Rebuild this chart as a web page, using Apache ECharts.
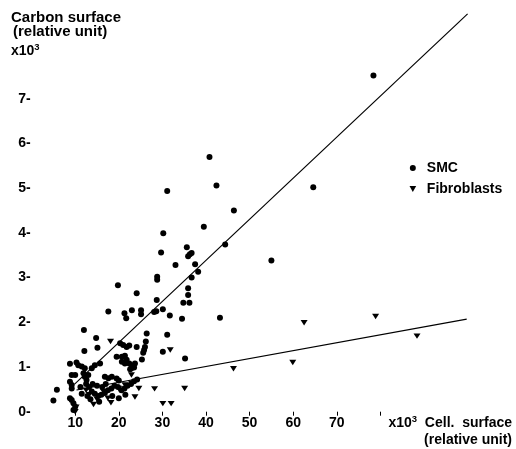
<!DOCTYPE html>
<html>
<head>
<meta charset="utf-8">
<script src="https://cdn.jsdelivr.net/npm/echarts@6/dist/echarts.min.js"></script>
<style>
html,body{margin:0;padding:0;background:#fff;}
#chart{width:516px;height:449px;}
</style>
</head>
<body>
<div id="chart"></div>
<script>
// ---- data (x in 10^3 cell surface units, y in 10^3 carbon surface units) ----
const smcPoints = [
  [78.4,7.52],[40.8,5.70],[42.4,5.06],[31.1,4.94],[64.6,5.02],[46.4,4.50],[39.5,4.14],[30.2,3.99],
  [44.4,3.74],[55.0,3.38],[29.7,3.56],[35.6,3.68],[35.9,3.48],[36.3,3.52],[36.7,3.55],[33.0,3.28],
  [37.5,3.30],[38.2,3.13],[28.8,3.02],[28.8,2.95],[36.7,3.00],[19.8,2.83],[24.1,2.65],[35.9,2.76],
  [35.9,2.61],[28.7,2.50],[34.8,2.44],[36.2,2.44],[43.2,2.10],[34.5,2.08],[31.7,2.15],
  [17.6,2.24],[21.3,2.20],[21.7,2.09],[23.0,2.27],[25.1,2.27],[25.1,2.18],[28.1,2.23],[28.6,2.25],
  [30.1,2.29],[12.0,1.83],[26.4,1.75],[31.1,1.72],[14.8,1.65],[15.1,1.43],[12.1,1.36],[26.2,1.57],
  [26.0,1.45],[25.8,1.38],[25.6,1.32],[20.3,1.53],[21.0,1.49],[21.8,1.45],[22.4,1.48],[24.1,1.45],
  [30.1,1.34],[19.5,1.23],[20.7,1.23],[21.4,1.25],[21.8,1.16],[20.7,1.12],[21.4,1.08],[22.4,1.08],
  [25.3,1.17],[23.7,1.08],[23.3,1.02],[22.9,0.97],[22.6,0.95],[23.5,0.99],[35.2,1.19],
  [8.8,1.07],[10.3,1.10],[10.7,1.04],[11.5,1.01],[12.2,0.97],[13.8,0.97],[14.5,1.04],[15.7,1.08],
  [9.2,0.82],[10.0,0.82],[11.9,0.86],[12.2,0.78],[12.6,0.71],[13.0,0.82],[16.8,0.78],[17.6,0.75],
  [18.4,0.78],[19.5,0.74],[20.0,0.70],[8.8,0.67],[9.2,0.60],[9.2,0.52],[5.8,0.49],[5.0,0.25],
  [8.8,0.30],[9.2,0.26],[9.6,0.19],[10.0,0.11],[9.6,0.04],
  [12.5,0.62],[13.2,0.55],[13.8,0.45],[14.5,0.40],[15.3,0.35],[16.0,0.38],[16.8,0.42],[17.5,0.48],
  [18.3,0.52],[19.0,0.58],[19.8,0.55],[20.6,0.48],[21.3,0.52],[22.0,0.58],[22.8,0.62],[23.5,0.68],
  [24.2,0.72],[14.0,0.62],[15.0,0.58],[16.2,0.55],[17.0,0.62],[12.8,0.35],[13.5,0.28],[15.5,0.22],
  [18.5,0.35],[20.0,0.30],[21.5,0.38],[11.2,0.55],[11.5,0.40]
];
const fibroPoints = [
  [18.1,1.57],[31.8,1.38],[22.9,0.82],[24.6,0.52],[28.2,0.51],[35.1,0.52],[23.7,0.33],[18.2,0.20],
  [30.1,0.18],[32.0,0.18],[14.2,0.16],[10.0,0.0],[62.5,1.99],[78.9,2.13],[88.4,1.69],[46.3,0.96],
  [59.9,1.10],[21.4,0.60],[22.9,0.64],[20.0,0.52],[16.5,0.45],[12.5,0.48],[13.2,0.38],[15.0,0.28],
  [17.5,0.30],[10.2,0.10]
];
const smcFitX = [9.8, 100.0];
const smcFitY = [0.61, 8.90];
const fibroFitX = [10.3, 99.8];
const fibroFitY = [0.485, 2.07];
const xTickValues = [10, 20, 30, 40, 50, 60, 70, 80];
const xLabelValues = [10, 20, 30, 40, 50, 60, 70];
const yLabelValues = [0, 1, 2, 3, 4, 5, 6, 7];
const seriesNames = ['SMC', 'Fibroblasts'];

const FONT = '"Liberation Sans", Arial, Helvetica, sans-serif';
const INK = '#000';
const triDown = 'path://M0,0L10,0L5,9Z';

const supRich = {
  b: {fontFamily: FONT, fontWeight: 'bold', fontSize: 14, lineHeight: 16, color: INK, verticalAlign: 'bottom'},
  s: {fontFamily: FONT, fontWeight: 'bold', fontSize: 9.5, lineHeight: 10, color: INK, verticalAlign: 'top'}
};

const chart = echarts.init(document.getElementById('chart'), null, {renderer: 'canvas'});
chart.setOption({
  animation: false,
  backgroundColor: '#fff',
  grid: {left: 31.6, right: 4.8, top: 9.4, bottom: 37.3, containLabel: false},
  xAxis: {
    type: 'value', min: 0, max: 110, interval: 10,
    axisLine: {show: false},
    splitLine: {show: false},
    axisTick: {show: true, length: 4, customValues: xTickValues, lineStyle: {color: INK, width: 1}},
    axisLabel: {
      customValues: xLabelValues, margin: 4,
      color: INK, fontFamily: FONT, fontWeight: 'bold', fontSize: 14
    }
  },
  yAxis: {
    type: 'value', min: 0, max: 9, interval: 1,
    axisLine: {show: false},
    splitLine: {show: false},
    axisTick: {show: false},
    axisLabel: {
      customValues: yLabelValues, margin: 1,
      color: INK, fontFamily: FONT, fontWeight: 'bold', fontSize: 14,
      formatter: v => (yLabelValues.indexOf(v) >= 0 ? v + '-' : '')
    }
  },
  legend: {
    orient: 'vertical', left: 404.5, top: 156,
    itemWidth: 18, itemHeight: 6, itemGap: 7,
    data: seriesNames,
    textStyle: {color: INK, fontFamily: FONT, fontWeight: 'bold', fontSize: 14}
  },
  graphic: [
    {type: 'text', x: 11, y: 17.5, style: {text: 'Carbon surface', font: 'bold 15px ' + FONT, fill: INK, textVerticalAlign: 'middle'}},
    {type: 'text', x: 13, y: 31.5, style: {text: '(relative unit)', font: 'bold 15px ' + FONT, fill: INK, textVerticalAlign: 'middle'}},
    {type: 'text', x: 11, y: 50.5, style: {text: '{b|x10}{s|3}', rich: supRich, textVerticalAlign: 'middle'}},
    {type: 'text', x: 512, y: 422, style: {text: '{b|x10}{s|3}{b|  Cell.  surface}', rich: supRich, textAlign: 'right', textVerticalAlign: 'middle'}},
    {type: 'text', x: 512, y: 440, style: {text: '(relative unit)', font: 'bold 14px ' + FONT, fill: INK, textAlign: 'right', textVerticalAlign: 'middle'}}
  ],
  series: [
    {
      name: seriesNames[0], type: 'scatter', data: smcPoints,
      symbol: 'circle', symbolSize: 6,
      itemStyle: {color: INK, opacity: 1}
    },
    {
      name: seriesNames[1], type: 'scatter', data: fibroPoints,
      symbol: triDown, symbolSize: [7, 6], symbolKeepAspect: true,
      itemStyle: {color: INK, opacity: 1}
    },
    {
      type: 'line', data: smcFitX.map((x, i) => [x, smcFitY[i]]),
      symbol: 'none', silent: true, lineStyle: {color: INK, width: 1.2}, z: 1
    },
    {
      type: 'line', data: fibroFitX.map((x, i) => [x, fibroFitY[i]]),
      symbol: 'none', silent: true, lineStyle: {color: INK, width: 1.2}, z: 1
    }
  ]
});
</script>
</body>
</html>
